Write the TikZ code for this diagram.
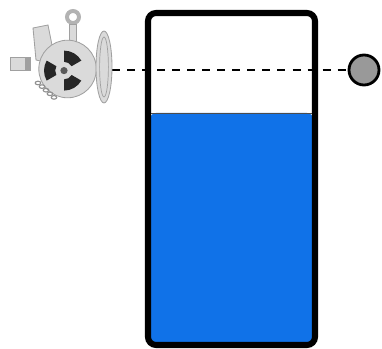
\documentclass[tikz,border=0pt]{standalone}
\usetikzlibrary{positioning}

\definecolor{waterblue}{RGB}{16,114,232}
\definecolor{valvegray}{RGB}{218,218,218}
\definecolor{valveedge}{RGB}{160,160,160}

\begin{document}
\begin{tikzpicture}[
    tankwall/.style={line width=4.3pt, rounded corners=0.2cm},
    valvepart/.style={fill=valvegray, draw=valveedge, line width=0.6pt},
    blade/.style={fill=black!85}
  ]
    \useasboundingbox (0,0) rectangle (9.55,8.725);

    % water in the tank
    \fill [waterblue, rounded corners=0.15cm] (3.75,5.9) -- (3.75,0.1) -- (7.825,0.1) -- (7.825,5.9) -- cycle;
    \draw [black!70, line width=0.6pt] (3.75,5.9) -- (7.825,5.9);

    % level sensor and its beam
    \coordinate (source) at (2.8,6.975);
    \node [circle, draw, line width=2pt, fill=black!40, minimum size=0.75cm, inner sep=0pt] (sensor) at (9.1,6.975) {};
    \draw [line width=2pt, dash pattern=on 5.7pt off 5pt] (source) -- (sensor);

    % tank
    \draw [tankwall] (3.7,0.1) rectangle (7.875,8.4);

    % valve: stub, handle, ring, body, flange, chain
    \draw [valvepart] (0.25,6.975) rectangle (0.75,7.3);
    \fill [valveedge] (0.62,6.975) rectangle (0.75,7.3);
    \draw [valvepart] (0.825,8.025) -- (1.2,8.1) -- (1.325,7.475) -- (1.125,7.175) -- (0.9,7.225) -- cycle;
    \draw [valveedge!80, line width=2.8pt] (1.825,8.3) circle (0.15);
    \draw [valvepart] (1.73,7.6) rectangle (1.92,8.12);
    \draw [valvepart] (1.69,7.0) circle (0.72);
    \draw [valvepart] (2.6,7.05) ellipse (0.2 and 0.9);
    \draw [valveedge, line width=0.5pt] (2.6,7.05) ellipse (0.11 and 0.75);
    \foreach \k in {0,...,4}
      \draw [valveedge!90!black, line width=0.8pt] ({0.95+0.1*\k},{6.65-0.09*\k}) ellipse (0.07 and 0.045);

    % radiation mark on the body
    \coordinate (mark) at (1.6,6.96);
    \foreach \a in {60,180,300}
      \fill [blade] (mark) ++(\a-30:0.22) arc (\a-30:\a+30:0.22) -- ++(\a+30:0.28) arc (\a+30:\a-30:0.5) -- cycle;
    \fill [black!65] (mark) circle (0.09);
  \end{tikzpicture}
\end{document}
